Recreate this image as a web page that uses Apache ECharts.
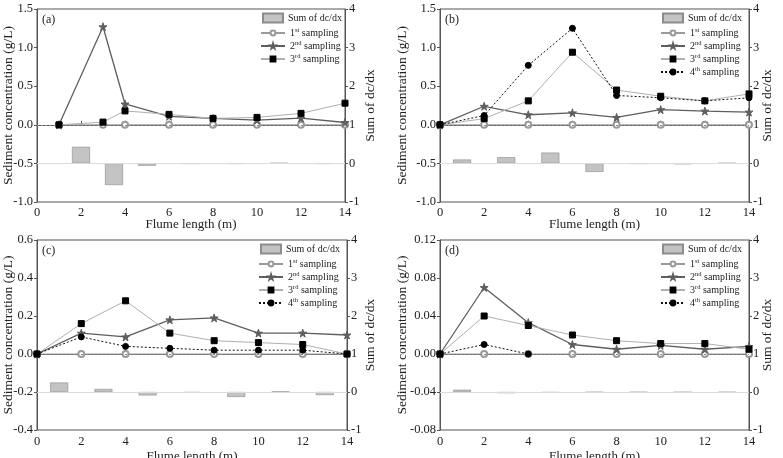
<!DOCTYPE html>
<html><head><meta charset="utf-8">
<script src="https://cdn.jsdelivr.net/npm/echarts@6/dist/echarts.min.js"></script>
<style>html,body{margin:0;padding:0;background:#fff}#c{width:783px;height:458px}</style>
</head><body><div id="c"></div>
<script>
// ---- data ----
const aX = [1, 3, 4, 6, 8, 10, 12, 14];
const a1 = [0, 0, 0, 0, 0, 0, 0, 0];
const a2 = [0, 1.27, 0.27, 0.11, 0.083, 0.06, 0.087, 0.03];
const a3 = [0, 0.035, 0.18, 0.135, 0.083, 0.096, 0.148, 0.28];
const aBarX = [2, 3.5, 5, 7, 9, 11, 13];
const aBar = [0.43, -0.56, -0.06, -0.01, -0.01, 0.01, -0.01];

const bX = [0, 2, 4, 6, 8, 10, 12, 14];
const b1 = [0, 0, 0, 0, 0, 0, 0, 0];
const b2 = [0, 0.24, 0.13, 0.155, 0.096, 0.196, 0.178, 0.165];
const b3 = [0, 0.08, 0.31, 0.94, 0.45, 0.37, 0.31, 0.40];
const b4 = [0, 0.12, 0.77, 1.25, 0.38, 0.35, 0.31, 0.35];
const bBarX = [1, 3, 5, 7, 9, 11, 13];
const bBar = [0.10, 0.16, 0.28, -0.22, -0.01, -0.02, 0.01];

const cX = [0, 2, 4, 6, 8, 10, 12, 14];
const c1 = [0, 0, 0, 0, 0, 0, 0, 0];
const c2 = [0, 0.11, 0.09, 0.18, 0.19, 0.11, 0.11, 0.10];
const c3 = [0, 0.16, 0.28, 0.11, 0.07, 0.06, 0.05, 0];
const c4 = [0, 0.09, 0.04, 0.03, 0.02, 0.02, 0.02, 0];
const cBarX = [1, 3, 5, 7, 9, 11, 13];
const cBar = [0.25, 0.08, -0.09, -0.02, -0.13, 0.01, -0.08];

const dX = [0, 2, 4, 6, 8, 10, 12, 14];
const d1 = [0, 0, 0, 0, 0, 0, 0, 0];
const d2 = [0, 0.070, 0.033, 0.010, 0.005, 0.009, 0.005, 0.008];
const d3 = [0, 0.040, 0.030, 0.020, 0.014, 0.011, 0.011, 0.005];
const d4X = [0, 2, 4];
const d4 = [0, 0.010, 0];
const dBarX = [1, 3, 5, 7, 9, 11, 13];
const dBar = [0.06, -0.03, -0.02, -0.01, -0.01, -0.01, -0.01];

const panelLabels = ['(a)', '(b)', '(c)', '(d)'];
const barName = 'Sum of dc/dx';
const lineNames = ['1st sampling', '2nd sampling', '3rd sampling', '4th sampling'];
const xName = 'Flume length (m)';
const yLeftName = 'Sediment concentration (g/L)';
const yRightName = 'Sum of dc/dx';

// ---- styling / building ----
const FONT = 'Liberation Serif';
const TXT = '#222';
const AX = '#555';
const STAR = 'path://M50,0 L61,35 L98,35 L68,57 L79,91 L50,70 L21,91 L32,57 L2,35 L39,35 Z';
const lineStyles = [
  {color: '#9a9a9a', symbol: 'emptyCircle', symbolSize: 6, width: 1, type: 'solid'},
  {color: '#5e5e5e', symbol: STAR, symbolSize: 8, width: 1.3, type: 'solid'},
  {color: '#b0b0b0', symbol: 'rect', symbolSize: 6, width: 1, type: 'solid', markerColor: '#000'},
  {color: '#111', symbol: 'circle', symbolSize: 6, width: 1, type: [2, 2], markerColor: '#000'}
];
const zip = (xs, ys) => xs.map((x, i) => [x, ys[i]]);

const panels = [
  {grid: {left: 37, top: 9, width: 308, height: 193}, yMin: -1.0, yMax: 1.5, yInt: 0.5, dec: 1,
   lines: [zip(aX, a1), zip(aX, a2), zip(aX, a3)], bars: zip(aBarX, aBar),
   lx: 262, ly: 12, nameGapL: 22, nameGapR: 18, xGap: 16, xMargin: 4},
  {grid: {left: 440, top: 9, width: 309, height: 193}, yMin: -1.0, yMax: 1.5, yInt: 0.5, dec: 1,
   lines: [zip(bX, b1), zip(bX, b2), zip(bX, b3), zip(bX, b4)], bars: zip(bBarX, bBar),
   lx: 662, ly: 12, nameGapL: 31, nameGapR: 11, xGap: 16, xMargin: 4},
  {grid: {left: 37, top: 240, width: 310, height: 190}, yMin: -0.4, yMax: 0.6, yInt: 0.2, dec: 1,
   lines: [zip(cX, c1), zip(cX, c2), zip(cX, c3), zip(cX, c4)], bars: zip(cBarX, cBar),
   lx: 260, ly: 243, nameGapL: 22, nameGapR: 16, xGap: 20, xMargin: 5},
  {grid: {left: 440, top: 240, width: 309, height: 190}, yMin: -0.08, yMax: 0.12, yInt: 0.04, dec: 2,
   lines: [zip(dX, d1), zip(dX, d2), zip(dX, d3), zip(d4X, d4)], bars: zip(dBarX, dBar),
   lx: 662, ly: 243, nameGapL: 31, nameGapR: 11, xGap: 20, xMargin: 5}
];

const supFmt = name => {
  const m = name.match(/^(\d)(st|nd|rd|th) (.*)$/);
  return m ? m[1] + '{s|' + m[2] + '} ' + m[3] : name;
};
const legendText = {
  fontFamily: FONT, fontSize: 10, color: TXT, lineHeight: 12,
  rich: {s: {fontFamily: FONT, fontSize: 6.5, color: TXT, lineHeight: 6, verticalAlign: 'top'}}
};

const option = {
  animation: false,
  backgroundColor: '#fff',
  grid: [], xAxis: [], yAxis: [], series: [], legend: [], title: []
};

panels.forEach((p, i) => {
  option.grid.push(Object.assign({show: true, borderColor: AX, borderWidth: 1, containLabel: false,
    outerBoundsMode: 'none'}, p.grid));
  option.xAxis.push({
    type: 'value', gridIndex: i, min: 0, max: 14, interval: 2,
    name: xName, nameLocation: 'middle', nameGap: p.xGap, nameMoveOverlap: false,
    nameTextStyle: {fontFamily: FONT, fontSize: 13, color: TXT},
    axisLine: {lineStyle: {color: AX}}, axisTick: {inside: true, length: 4, lineStyle: {color: AX}},
    axisLabel: {fontFamily: FONT, fontSize: 12.5, color: TXT, margin: p.xMargin},
    splitLine: {show: false}
  });
  option.yAxis.push({
    type: 'value', gridIndex: i, min: p.yMin, max: p.yMax, interval: p.yInt, position: 'left',
    name: yLeftName, nameLocation: 'middle', nameGap: p.nameGapL, nameMoveOverlap: false,
    nameTextStyle: {fontFamily: FONT, fontSize: 13.5, color: TXT},
    axisLine: {show: true, lineStyle: {color: AX}}, axisTick: {show: true, length: 3, lineStyle: {color: AX}},
    axisLabel: {fontFamily: FONT, fontSize: 12.5, color: TXT, margin: 4, formatter: v => v.toFixed(p.dec)},
    splitLine: {show: false}
  });
  option.yAxis.push({
    type: 'value', gridIndex: i, min: -1, max: 4, interval: 1, position: 'right',
    name: yRightName, nameLocation: 'middle', nameGap: p.nameGapR, nameMoveOverlap: false,
    nameTextStyle: {fontFamily: FONT, fontSize: 13.5, color: TXT},
    axisLine: {show: true, lineStyle: {color: AX}}, axisTick: {show: true, length: 3, lineStyle: {color: AX}},
    axisLabel: {fontFamily: FONT, fontSize: 12.5, color: TXT, margin: 4},
    splitLine: {show: false}
  });
  // bars
  option.series.push({
    type: 'bar', name: barName, xAxisIndex: i, yAxisIndex: 2 * i + 1,
    data: p.bars, barWidth: 18,
    itemStyle: {color: '#c3c3c3', borderColor: '#8c8c8c', borderWidth: 0.6},
    markLine: {silent: true, symbol: 'none', label: {show: false},
      lineStyle: {color: '#dcdcdc', type: 'solid', width: 1}, data: [{yAxis: 0}]}
  });
  // lines
  const names = [];
  p.lines.forEach((d, k) => {
    const s = lineStyles[k];
    const mc = s.markerColor || s.color;
    names.push(lineNames[k]);
    const ser = {
      type: 'line', name: lineNames[k], xAxisIndex: i, yAxisIndex: 2 * i, data: d,
      symbol: s.symbol, symbolSize: s.symbolSize, z: 3 + k,
      lineStyle: {color: s.color, width: s.width, type: s.type},
      itemStyle: {color: mc, borderColor: mc, borderWidth: 1}
    };
    if (k === 0) {
      ser.markLine = {silent: true, symbol: 'none', label: {show: false},
        lineStyle: {color: '#888', type: [2, 2], width: 1}, data: [{yAxis: 0}]};
    }
    option.series.push(ser);
  });
  option.legend.push({
    orient: 'vertical', left: p.lx, top: p.ly, data: [barName],
    itemWidth: 20, itemHeight: 9, icon: 'rect', textStyle: legendText, padding: 0
  });
  option.legend.push({
    orient: 'vertical', left: p.lx - 2, top: p.ly + 15, data: names, itemGap: 1,
    itemWidth: 24, itemHeight: 6, textStyle: legendText, formatter: supFmt, padding: 0
  });
  option.title.push({
    text: panelLabels[i], left: p.grid.left + 5, top: p.grid.top + 5, padding: 0,
    textStyle: {fontFamily: FONT, fontSize: 12, fontWeight: 'normal', color: TXT}
  });
});

const chart = echarts.init(document.getElementById('c'), null, {renderer: 'canvas'});
chart.setOption(option);
</script>
</body></html>
